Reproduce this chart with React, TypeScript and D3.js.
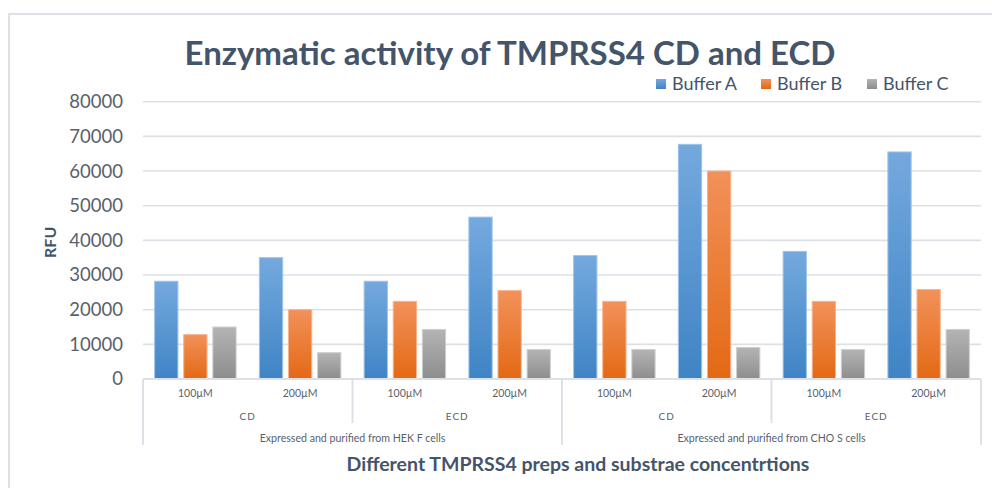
import React from "react";
import * as d3 from "d3";

// data
const cellLines = ["Expressed and purified from HEK F cells", "Expressed and purified from CHO S cells"];
const preps = ["CD", "ECD"];
const concentrations = ["100µM", "200µM"];
const seriesNames = ["Buffer A", "Buffer B", "Buffer C"];
const bufferA = [28200, 35000, 28200, 46700, 35600, 67700, 36800, 65500];
const bufferB = [12800, 20000, 22400, 25500, 22400, 60000, 22400, 25800];
const bufferC = [15000, 7600, 14300, 8500, 8500, 9100, 8500, 14300];
const yTicks = [0, 10000, 20000, 30000, 40000, 50000, 60000, 70000, 80000];

const width = 992;
const height = 488;
const plot = { left: 143, right: 981, top: 101.7, bottom: 379 };

const textDark = "#44546A";
const tickColor = "#595F6B";
const gridColor = "#DCE1E8";
const font = "Lato, 'Open Sans', sans-serif";

const gradients = [
  { id: "gA", top: "#74A9DE", bottom: "#3F84C5", stroke: "#9CC3EA" },
  { id: "gB", top: "#F2915A", bottom: "#E36914", stroke: "#F6B48E" },
  { id: "gC", top: "#B4B4B4", bottom: "#8D8D8D", stroke: "#CFCFCF" },
];

export default function App() {
  const values = [bufferA, bufferB, bufferC];

  // 8 leaf categories: cell line x prep x concentration
  const cats: { cell: number; prep: number; conc: number }[] = [];
  cellLines.forEach((_, c) =>
    preps.forEach((_, p) => concentrations.forEach((_, k) => cats.push({ cell: c, prep: p, conc: k })))
  );

  const x = d3
    .scaleBand<number>()
    .domain(cats.map((_, i) => i))
    .range([plot.left, plot.right])
    .padding(0);
  const xInner = d3
    .scaleBand<number>()
    .domain([0, 1, 2])
    .range([0, x.bandwidth()])
    .paddingInner(0.2)
    .paddingOuter(0.4);
  const y = d3.scaleLinear().domain([0, 80000]).range([plot.bottom, plot.top]);

  const step = x.step();
  const prepCount = preps.length * concentrations.length;

  return (
    <svg
      width={width}
      height={height}
      style={{ position: "absolute", left: 0, top: 0, background: "#fff", fontFamily: font }}
    >
      <defs>
        {gradients.map((g) => (
          <linearGradient key={g.id} id={g.id} x1="0" y1="0" x2="0" y2="1">
            <stop offset="0%" stopColor={g.top} />
            <stop offset="100%" stopColor={g.bottom} />
          </linearGradient>
        ))}
      </defs>

      {/* chart frame */}
      <rect x={9} y={14} width={1000} height={500} fill="none" stroke={gridColor} strokeWidth={2} />

      {/* title */}
      <text x={510} y={65} textAnchor="middle" fontSize={33} fontWeight="bold" fill={textDark}>
        Enzymatic activity of TMPRSS4 CD and ECD
      </text>

      {/* legend */}
      {seriesNames.map((s, i) => {
        const lx = [656, 761, 867][i];
        return (
          <g key={s}>
            <rect x={lx} y={79} width={10} height={10} fill={`url(#${gradients[i].id})`} />
            <text x={lx + 16} y={89.5} fontSize={18} fill={textDark}>
              {s}
            </text>
          </g>
        );
      })}

      {/* gridlines and y ticks */}
      {yTicks.map((t) => (
        <g key={t}>
          <line x1={plot.left} x2={plot.right} y1={y(t)} y2={y(t)} stroke={gridColor} strokeWidth={1.6} />
          <text x={123} y={y(t)} dy="0.35em" textAnchor="end" fontSize={18.5} fill={tickColor}>
            {t}
          </text>
        </g>
      ))}

      {/* y axis title */}
      <text
        transform={`translate(56,${(plot.top + plot.bottom) / 2 + 2}) rotate(-90)`}
        textAnchor="middle"
        fontSize={16}
        fontWeight="bold"
        fill={textDark}
      >
        RFU
      </text>

      {/* bars */}
      {values.map((vals, si) =>
        vals.map((v, ci) => (
          <rect
            key={`${si}-${ci}`}
            x={(x(ci) as number) + (xInner(si) as number)}
            y={y(v)}
            width={xInner.bandwidth()}
            height={y(0) - y(v)}
            fill={`url(#${gradients[si].id})`}
            stroke={gradients[si].stroke}
            strokeWidth={1}
          />
        ))
      )}

      {/* category axis */}
      <line x1={plot.left} x2={plot.right} y1={plot.bottom} y2={plot.bottom} stroke={gridColor} strokeWidth={2} />
      {cats.map((c, i) => (
        <text
          key={`c${i}`}
          x={(x(i) as number) + step / 2}
          y={393}
          dy="0.35em"
          textAnchor="middle"
          fontSize={10.5}
          fill={tickColor}
        >
          {concentrations[c.conc]}
        </text>
      ))}
      {cellLines.map((cl, c) =>
        preps.map((p, pi) => {
          const start = x(c * prepCount + pi * concentrations.length) as number;
          return (
            <g key={`${c}-${p}`}>
              <text
                x={start + step}
                y={416}
                dy="0.35em"
                textAnchor="middle"
                fontSize={10}
                letterSpacing={1}
                fill={tickColor}
              >
                {p}
              </text>
              {pi > 0 && (
                <line x1={start} x2={start} y1={plot.bottom} y2={423} stroke={gridColor} strokeWidth={2} />
              )}
            </g>
          );
        })
      )}
      {cellLines.map((cl, c) => {
        const start = x(c * prepCount) as number;
        return (
          <g key={cl}>
            <text
              x={start + (step * prepCount) / 2}
              y={438}
              dy="0.35em"
              textAnchor="middle"
              fontSize={10.6}
              fill={tickColor}
            >
              {cl}
            </text>
            <line x1={start} x2={start} y1={plot.bottom} y2={445} stroke={gridColor} strokeWidth={2} />
          </g>
        );
      })}
      <line x1={plot.right} x2={plot.right} y1={plot.bottom} y2={445} stroke={gridColor} strokeWidth={2} />

      {/* x axis title */}
      <text x={578} y={471} textAnchor="middle" fontSize={19.5} fontWeight="bold" fill={textDark}>
        Different TMPRSS4 preps and substrae concentrtions
      </text>
    </svg>
  );
}
